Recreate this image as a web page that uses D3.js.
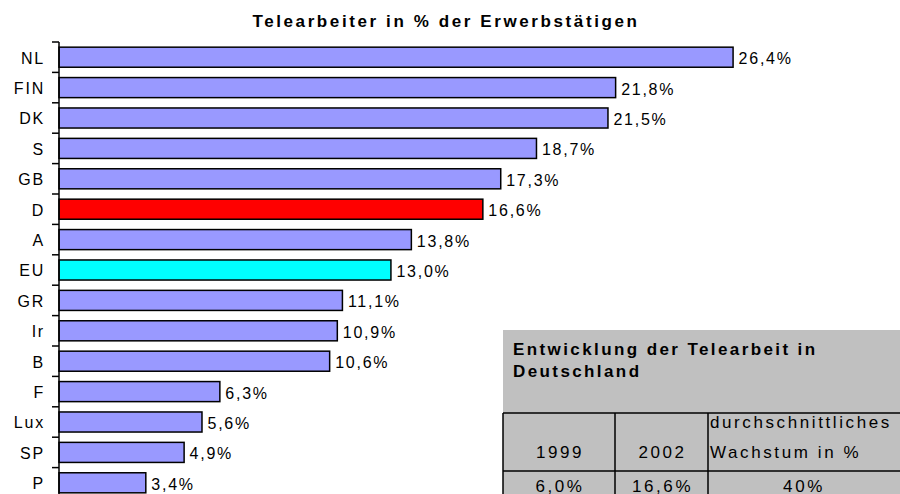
<!DOCTYPE html>
<html>
<head>
<meta charset="utf-8">
<script src="https://cdn.jsdelivr.net/npm/d3@7"></script>
<style>
  body { margin: 0; background: #fff; }
  svg { display: block; font-family: "Liberation Sans", Arial, sans-serif; }
</style>
</head>
<body>
<div id="chart"></div>
<script>
const countries = ["NL", "FIN", "DK", "S", "GB", "D", "A", "EU", "GR", "Ir", "B", "F", "Lux", "SP", "P"];
const shares = [26.4, 21.8, 21.5, 18.7, 17.3, 16.6, 13.8, 13.0, 11.1, 10.9, 10.6, 6.3, 5.6, 4.9, 3.4];
const highlight = { D: "#ff0000", EU: "#00ffff" };

const tableTitle = ["Entwicklung der Telearbeit in", "Deutschland"];
const tableHead = ["1999", "2002", ["durchschnittliches", "Wachstum in %"]];
const tableRow = ["6,0%", "16,6%", "40%"];

const W = 900, H = 494;
const fmt = (v) => d3.format(".1f")(v).replace(".", ",") + "%";

const svg = d3.select("#chart").append("svg").attr("width", W).attr("height", H);

const x = d3.scaleLinear().domain([0, 30]).range([59, 825]);
const y = d3.scaleBand().domain(countries).range([42, 498]).paddingInner(0.34).paddingOuter(0.17);

svg.append("text")
    .attr("x", 446).attr("y", 27)
    .attr("text-anchor", "middle")
    .attr("font-size", 17).attr("font-weight", "bold")
    .attr("letter-spacing", 2.6)
    .text("Telearbeiter in % der Erwerbstätigen");

svg.selectAll("rect.bar")
    .data(countries)
    .join("rect")
    .attr("class", "bar")
    .attr("x", x(0))
    .attr("y", (d) => y(d))
    .attr("width", (d, i) => x(shares[i]) - x(0))
    .attr("height", y.bandwidth())
    .attr("fill", (d) => highlight[d] || "#9999ff")
    .attr("stroke", "#000")
    .attr("stroke-width", 1.5);

svg.selectAll("text.val")
    .data(countries)
    .join("text")
    .attr("class", "val")
    .attr("x", (d, i) => x(shares[i]) + 5.5)
    .attr("y", (d) => y(d) + y.bandwidth() / 2)
    .attr("dy", "0.44em")
    .attr("font-size", 16)
    .attr("letter-spacing", 1.75)
    .text((d, i) => fmt(shares[i]));

// category axis
const axis = svg.append("g");
axis.append("line")
    .attr("x1", 59).attr("x2", 59)
    .attr("y1", 42).attr("y2", H)
    .attr("stroke", "#000").attr("stroke-width", 1.5);
axis.selectAll("line.tick")
    .data(countries)
    .join("line")
    .attr("class", "tick")
    .attr("x1", 52).attr("x2", 59)
    .attr("y1", (d) => y(d) - y.step() * y.paddingInner() / 2)
    .attr("y2", (d) => y(d) - y.step() * y.paddingInner() / 2)
    .attr("stroke", "#000").attr("stroke-width", 1.5);
axis.selectAll("text")
    .data(countries)
    .join("text")
    .attr("x", 45)
    .attr("y", (d) => y(d) + y.bandwidth() / 2)
    .attr("dy", "0.4em")
    .attr("text-anchor", "end")
    .attr("font-size", 16)
    .attr("letter-spacing", 1.8)
    .text((d) => d);

// table box
const tb = svg.append("g");
const cols = [503, 615, 708, 900];
const rowY = [413, 471];
tb.append("rect").attr("x", 503).attr("y", 330).attr("width", W - 503).attr("height", H - 330).attr("fill", "#c0c0c0");
tb.selectAll("text.ttl")
    .data(tableTitle)
    .join("text")
    .attr("class", "ttl")
    .attr("x", 513)
    .attr("y", (d, i) => 355 + i * 22)
    .attr("font-size", 17).attr("font-weight", "bold")
    .attr("letter-spacing", 2.4)
    .text((d) => d);
tb.selectAll("line.h")
    .data(rowY)
    .join("line")
    .attr("class", "h")
    .attr("x1", 503).attr("x2", W)
    .attr("y1", (d) => d).attr("y2", (d) => d)
    .attr("stroke", "#000").attr("stroke-width", 1.5);
tb.selectAll("line.v")
    .data(cols.slice(0, 3))
    .join("line")
    .attr("class", "v")
    .attr("x1", (d) => d).attr("x2", (d) => d)
    .attr("y1", rowY[0]).attr("y2", H)
    .attr("stroke", "#000").attr("stroke-width", 1.5);

tableHead.forEach((h, i) => {
    if (Array.isArray(h)) {
        h.forEach((line, j) => {
            tb.append("text")
                .attr("x", cols[i] + 2)
                .attr("y", 428 + j * 30)
                .attr("font-size", 17)
                .attr("letter-spacing", 2.6)
                .text(line);
        });
    } else {
        tb.append("text")
            .attr("x", (cols[i] + cols[i + 1]) / 2 + 1)
            .attr("y", 458)
            .attr("text-anchor", "middle")
            .attr("font-size", 17)
            .attr("letter-spacing", 2.6)
            .text(h);
    }
});
tb.selectAll("text.cell")
    .data(tableRow)
    .join("text")
    .attr("class", "cell")
    .attr("x", (d, i) => (cols[i] + (i === 2 ? 898 : cols[i + 1])) / 2 + 1)
    .attr("y", 492)
    .attr("text-anchor", "middle")
    .attr("font-size", 17)
    .attr("letter-spacing", 2.6)
    .text((d) => d);
</script>
</body>
</html>
